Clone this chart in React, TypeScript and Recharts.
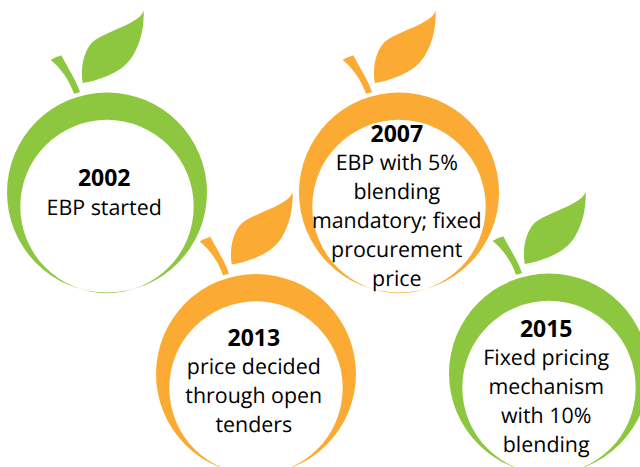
import React from "react";
import { ScatterChart, Scatter, XAxis, YAxis } from "recharts";

const GREEN = "#8DC73F";
const ORANGE = "#FBAA33";
const FONT = "'Open Sans', sans-serif";

const greenYears = ["2002", "2015"];
const greenX = [107, 549];
const greenY = [192.5, 373.5];
const greenText = [["EBP started"], ["Fixed pricing", "mechanism", "with 10%", "blending"]];

const orangeYears = ["2007", "2013"];
const orangeX = [399, 256];
const orangeY = [192.5, 374];
const orangeText = [
  ["EBP with 5%", "blending", "mandatory; fixed", "procurement", "price"],
  ["price decided", "through open", "tenders"],
];

const build = (years: string[], xs: number[], ys: number[], text: string[][]) =>
  years.map((year, i) => ({ year, x: xs[i], y: ys[i], lines: text[i] }));

const greenData = build(greenYears, greenX, greenY, greenText);
const orangeData = build(orangeYears, orangeX, orangeY, orangeText);

const STEM =
  "M-56.3 -132.5 C-52 -135 -49 -136 -45.7 -137.2 C-39 -124 -31 -113 -27 -100.2 L-33 -98.8 C-38 -113 -46 -124 -56.3 -132.5 Z";
const LEAF =
  "M-24.3 -109.5 C-26.5 -124 -24 -140 -15 -150 C-6 -158 14 -164 24 -170 C31 -174 35 -177 36.7 -182 C37 -168 35 -152 26 -137 C20 -127 11 -121 -1 -116 C-10 -112.5 -17 -110.5 -24.3 -109.5 Z";

const Apple = (props: any) => {
  const { cx, cy, payload, color, textDx, firstBaseline } = props;
  const base = firstBaseline[payload.year];
  return (
    <g>
      <g transform={`translate(${cx},${cy})`} fill={color}>
        <path d={STEM} />
        <path d={LEAF} />
        <path
          fillRule="evenodd"
          d="M-100 0 A100 100 0 1 1 100 0 A100 100 0 1 1 -100 0 Z M-86.7 14 A86.7 86.7 0 1 0 86.7 14 A86.7 86.7 0 1 0 -86.7 14 Z"
        />
      </g>
      <text x={cx + textDx} y={cy + base} textAnchor="middle" fontFamily={FONT} fontSize={23} fontWeight={700} fill="#000">
        {payload.year}
      </text>
      {payload.lines.map((line: string, i: number) => (
        <text
          key={line}
          x={cx + textDx}
          y={cy + base + (i + 1) * 28.8}
          textAnchor="middle"
          fontFamily={FONT}
          fontSize={21.4}
          fill="#000"
          style={{ fontVariantLigatures: "common-ligatures", textRendering: "geometricPrecision" }}
        >
          {line}
        </text>
      ))}
    </g>
  );
};

const baselines: Record<string, number> = { "2002": -6.5, "2007": -51, "2013": -28.5, "2015": -37 };

export default function App() {
  return (
    <div style={{ position: "absolute", left: 0, top: 0, width: 640, height: 467, overflow: "hidden", background: "#fff" }}>
      <ScatterChart width={640} height={467} margin={{ top: 0, right: 0, bottom: 0, left: 0 }}>
        <XAxis type="number" dataKey="x" domain={[0, 640]} hide />
        <YAxis type="number" dataKey="y" domain={[0, 467]} reversed hide />
        <Scatter
          data={greenData}
          isAnimationActive={false}
          shape={(p: any) => <Apple {...p} color={GREEN} textDx={-2.8} firstBaseline={baselines} />}
        />
        <Scatter
          data={orangeData}
          isAnimationActive={false}
          shape={(p: any) => <Apple {...p} color={ORANGE} textDx={-2.2} firstBaseline={baselines} />}
        />
      </ScatterChart>
    </div>
  );
}
